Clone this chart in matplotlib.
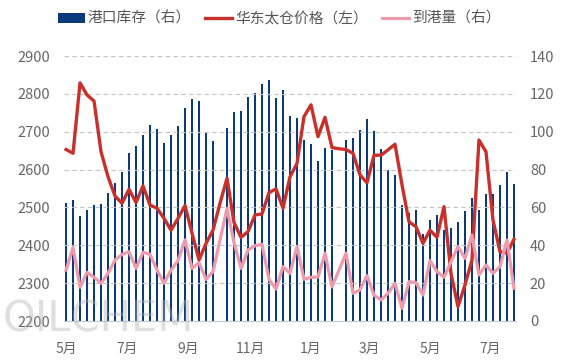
import numpy as np
import matplotlib.pyplot as plt
from matplotlib.patches import Patch
from matplotlib.lines import Line2D

plt.rcParams['font.family'] = ['Noto Sans CJK SC', 'DejaVu Sans']

# ---------------------------------------------------
# Data (weekly)
# ---------------------------------------------------
# port inventory (right axis), None = missing week
stock = [62.3, 63.7, 55.5, 58.6, 61.3, 61.8, 67.4, 72.7, 78.7, 88.6,
         92.4, 98.3, 103.4, 101.3, 93.9, 98.3, 103.0, 112.3, 117.1, 116.4,
         99.7, 95.1, None, 101.8, 110.6, 110.9, 118.2, 120.3, 125.2, 127.1,
         117.6, 121.9, 108.1, 107.1, 95.6, 93.3, 84.4, 91.2, 90.3, None,
         95.6, 96.5, 100.9, 106.5, 100.4, 90.9, 79.8, 77.1, 61.3, 56.9,
         58.6, 46.0, 53.4, 56.0, 48.1, 49.1, 52.1, 57.9, 65.0, 58.6,
         67.1, 67.1, 71.8, 78.7, 72.4]

# East China Taicang price (left axis)
price = [2653, 2643, 2829, 2797, 2781, 2647, 2581, 2530, 2511, 2548,
         2513, 2557, 2506, 2498, 2471, 2440, 2471, 2505, 2432, 2361,
         2405, 2440, 2511, 2577, 2460, 2421, 2436, 2480, 2483, 2539,
         2549, 2498, 2581, 2616, 2740, 2771, 2687, 2738, 2658, 2655,
         2653, 2643, 2586, 2565, 2638, 2638, 2652, 2667, 2560, 2462,
         2449, 2405, 2440, 2421, 2502, 2326, 2238, 2295, 2361, 2678,
         2647, 2467, 2383, 2379, 2416]

# arrivals (right axis)
arrivals = [26.9, 38.9, 17.8, 25.7, 23.1, 19.9, 25.2, 32.2, 35.2, 36.6,
            27.8, 36.3, 35.2, 26.9, 19.9, 26.9, 31.9, 42.8, 27.8, 30.8,
            22.0, 26.1, 42.8, 59.5, 41.4, 27.8, 37.5, 39.8, 40.5, 22.0,
            16.9, 28.7, 25.2, 39.4, 22.0, 23.1, 23.2, 35.8, 18.0, 26.9,
            35.8, 14.6, 16.4, 23.9, 13.7, 11.1, 14.6, 19.9, 6.7, 20.8,
            20.3, 13.7, 31.9, 26.1, 23.1, 31.3, 39.3, 33.1, 45.4, 24.3,
            29.6, 25.2, 28.7, 42.8, 17.3]

month_pos = [0, 8.7, 17.4, 26.4, 34.9, 43.3, 52.0, 60.6]
month_labels = ['5月', '7月', '9月', '11月', '1月', '3月', '5月', '7月']

x = np.arange(len(price))
stock_v = np.array([np.nan if v is None else v for v in stock])

# ---------------------------------------------------
# Figure
# ---------------------------------------------------
fig = plt.figure(figsize=(5.64, 3.63), dpi=100)
ax2 = fig.add_axes([64 / 564, 1 - 321 / 363, 452 / 564, 265 / 363])  # right scale, bars
ax1 = ax2.twinx()   # left scale, price
ax3 = ax2.twinx()   # right scale, arrivals on top

navy = '#0a3a7c'
red = '#c9302c'
pink = '#ee9aae'
grey = '#666666'

ax2.bar(x, stock_v, width=0.38, color=navy, zorder=1)
ax2.set_ylim(0, 140)
ax2.set_yticks(range(0, 141, 20))
ax2.yaxis.tick_right()
ax2.grid(axis='y', color='#c4c4c4', linestyle=(0, (4, 3)), linewidth=0.8)
ax2.set_axisbelow(False)

ax1.plot(x, price, color=red, linewidth=2.4)
ax1.set_ylim(2200, 2900)
ax1.set_yticks(range(2200, 2901, 100))
ax1.yaxis.tick_left()
ax1.set_zorder(ax2.get_zorder() + 1)
ax1.patch.set_visible(False)

ax3.plot(x, arrivals, color=pink, linewidth=2.3)
ax3.set_ylim(0, 140)
ax3.set_yticks([])
ax3.set_zorder(ax1.get_zorder() + 1)
ax3.patch.set_visible(False)

for a in (ax1, ax2, ax3):
    a.set_xlim(-0.29, 64.29)
    for s in ('top', 'left', 'right', 'bottom'):
        a.spines[s].set_visible(False)

ax2.spines['bottom'].set_visible(True)
ax2.spines['bottom'].set_color('#c0c8d6')
ax2.set_xticks(month_pos)
ax2.set_xticklabels(month_labels)
ax2.tick_params(axis='x', length=0, pad=15, labelsize=10, labelcolor=grey)
ax2.tick_params(axis='y', length=0, pad=10, labelsize=10.5, labelcolor=grey)
ax1.tick_params(axis='y', length=0, pad=10, labelsize=10.5, labelcolor=grey)

# legend
handles = [Patch(facecolor=navy, edgecolor='none'),
           Line2D([], [], color=red, linewidth=2.4),
           Line2D([], [], color=pink, linewidth=2.3)]
labels = ['港口库存（右）', '华东太仓价格（左）', '到港量（右）']
fig.legend(handles, labels, loc='center', bbox_to_anchor=(0.495, 1 - 19 / 363),
           ncol=3, frameon=False, fontsize=10.6, handlelength=1.8,
           handleheight=0.6, handletextpad=0.2, columnspacing=1.0,
           labelcolor='#555555')

# watermark
fig.text(0.005, 1 - 341 / 363, 'OILCHEM', fontsize=30, color='#b0b0b0',
         alpha=0.4, family='DejaVu Sans', va='bottom', zorder=10)

fig.savefig('out.png', dpi=100)
